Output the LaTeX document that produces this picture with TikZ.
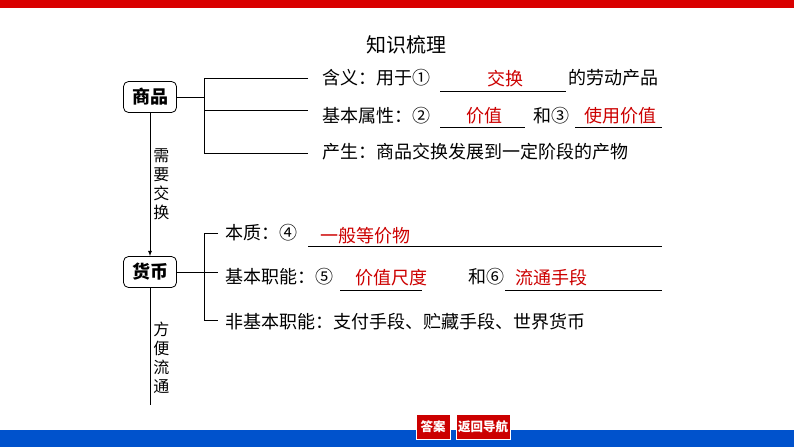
\documentclass[tikz,border=0pt]{standalone}
\usepackage{fontspec}
\setmainfont{Noto Sans CJK SC}
\begin{document}
\begin{tikzpicture}[x=1pt,y=-1pt,
 txt/.style={anchor=west,inner sep=0,font=\fontsize{18}{20}\selectfont},
 ans/.style={inner sep=0,text=red!80!black,font=\fontsize{18}{20}\selectfont},
 box/.style={draw,thick,rounded corners=5pt,minimum width=53pt,minimum height=31pt,font=\bfseries\fontsize{18}{20}\selectfont},
 vlab/.style={font=\fontsize{16}{19}\selectfont,align=center,inner sep=0},
 ln/.style={line width=0.8pt},
 btn/.style={fill=red!80!black,text=white,draw=white,font=\bfseries\fontsize{12.5}{14}\selectfont,inner sep=0,minimum height=25pt}]
\useasboundingbox (0,0) rectangle (794,447);
\fill[red!85!black] (0,0) rectangle (794,8);
\fill[blue!60!cyan!80!black] (0,430) rectangle (794,447);
\node[btn,minimum width=34pt] (b1) at (433,427) {答案};
\node[btn,minimum width=54pt] (b2) at (483,427) {返回导航};
\node[font=\fontsize{20}{22}\selectfont] (title) at (406,45) {知识梳理};
\node[box] (sp) at (150,97) {商品};
\node[box] (hb) at (150,272) {货币};
\draw[ln,-latex] (sp.south) -- (hb.north) node[midway,right=3pt,vlab] {需\\要\\交\\换};
\coordinate (end) at (150,405);
\draw[ln] (hb.south) -- (end) node[pos=0.6,right=3pt,vlab] {方\\便\\流\\通};
\draw[ln] (sp.east) -- (204,97);
\draw[ln] (308,78) -- (204,78) -- (204,153) -- (308,153);
\draw[ln] (204,110) -- (308,110);
\node[txt] (t1) at (322,78) {含义：用于①};
\draw[ln] (440,91) -- (566,91);
\node[ans] (a1) at (505,79) {交换};
\node[txt] (t1b) at (568,78) {的劳动产品};
\node[txt] (t2) at (322,116) {基本属性：②};
\draw[ln] (440,127) -- (525,127);
\node[ans] (a2) at (484,116) {价值};
\node[txt] (t2b) at (533,116) {和③};
\draw[ln] (575,127) -- (662,127);
\node[ans] (a3) at (620,116) {使用价值};
\node[txt] (t3) at (322,152) {产生：商品交换发展到一定阶段的产物};
\draw[ln] (hb.east) -- (218,272);
\draw[ln] (218,233) -- (204,233) -- (204,320) -- (218,320);
\node[txt] (u1) at (225,233) {本质：④};
\draw[ln] (308,246) -- (662,246);
\node[ans,anchor=west] (c1) at (320,236) {一般等价物};
\node[txt] (u2) at (225,277) {基本职能：⑤};
\draw[ln] (340,290) -- (422,290);
\node[ans] (c2) at (391,278) {价值尺度};
\node[txt] (u2b) at (468,277) {和⑥};
\draw[ln] (505,290) -- (662,290);
\node[ans] (c3) at (551,278) {流通手段};
\node[txt] (u3) at (225,322) {非基本职能：支付手段、贮藏手段、世界货币};
\end{tikzpicture}
\end{document}
